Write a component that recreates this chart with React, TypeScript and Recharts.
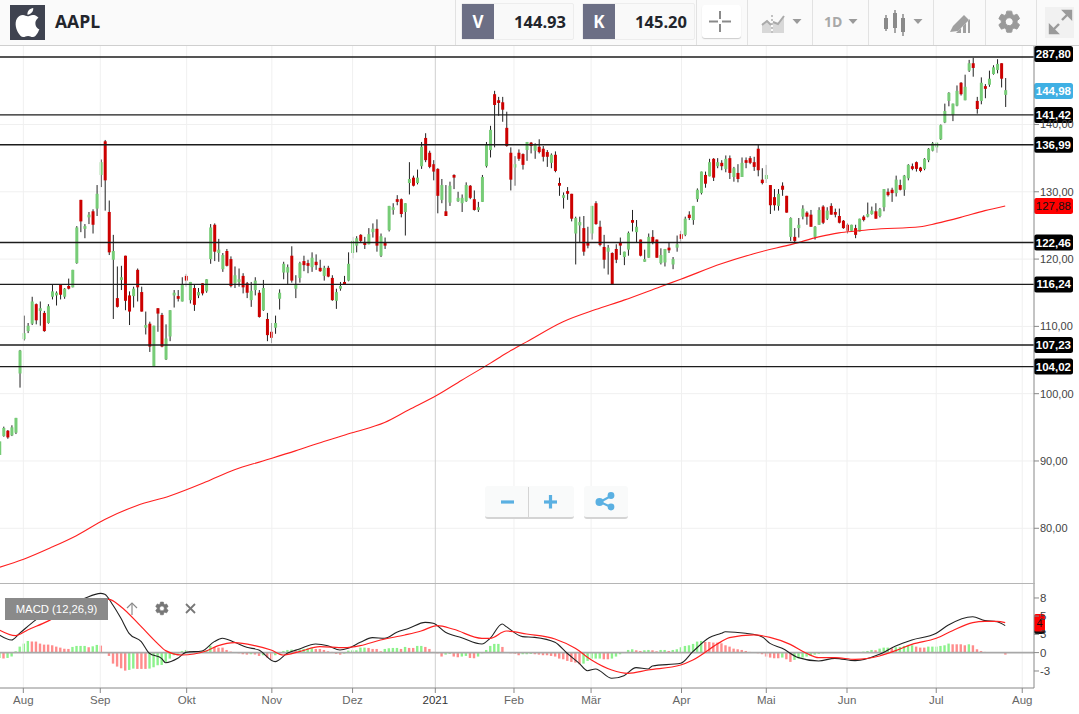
import React from "react";
import { ComposedChart, Bar, Line, XAxis, YAxis, ReferenceLine, CartesianGrid, Cell } from "recharts";

const opens = [90.9,93.7,94.5,93.8,94.2,103.0,108.1,109.3,110.4,113.3,112.3,112.0,110.5,114.4,114.6,116.2,114.4,116.0,115.8,119.4,128.8,124.5,126.2,127.1,127.5,132.5,137.5,127.0,119.9,114.2,116.9,120.5,114.6,114.5,118.4,115.1,109.8,110.4,104.1,112.7,111.7,105.1,108.5,114.6,114.5,113.7,117.5,113.9,115.7,114.6,116.4,115.2,120.0,125.1,120.9,118.5,121.2,120.0,116.4,116.6,117.5,116.4,113.9,115.4,115.0,112.4,111.1,109.2,109.8,114.1,118.0,118.0,120.5,115.6,117.2,119.7,119.4,118.8,119.6,118.7,117.5,118.7,117.2,113.8,115.6,116.6,116.8,120.9,122.0,123.6,122.5,122.2,124.0,124.5,120.5,122.5,124.3,127.3,128.9,128.9,127.0,131.3,132.1,131.3,133.8,138.0,135.8,134.1,133.4,128.8,127.1,128.4,132.5,128.6,128.3,128.6,130.9,128.9,127.3,128.5,133.8,136.2,144.5,143.6,143.3,139.5,135.8,133.6,135.8,135.6,136.2,137.3,136.1,136.7,136.4,135.9,134.3,135.5,131.3,129.1,130.1,129.7,123.8,125.0,124.6,122.5,123.8,128.3,124.8,121.8,121.1,120.9,121.5,122.4,120.3,121.4,125.8,124.0,122.9,119.6,120.2,123.3,122.9,119.4,119.5,121.7,119.2,121.7,123.7,123.6,126.6,125.8,128.9,129.8,132.5,132.3,134.9,133.8,134.3,133.4,135.0,132.2,132.8,132.2,134.7,135.0,134.4,136.4,131.8,131.9,131.0,129.2,127.9,130.9,129.4,123.3,123.3,124.6,126.3,126.9,126.6,123.3,125.1,127.8,126.0,127.9,127.0,126.4,125.7,125.1,124.2,124.6,124.1,126.3,126.3,126.7,127.1,126.4,127.7,130.0,130.3,129.8,131.0,130.3,132.0,133.8,134.4,133.6,133.4,134.7,136.1,136.6,137.8,140.3,143.5,141.4,142.8,146.2,143.6,148.0,149.1,143.5,143.5,145.7,145.9,147.5,148.1,149.1,144.4];
const closes = [92.9,94.9,93.5,95.0,96.4,106.4,109.0,110.1,113.7,110.9,112.7,109.3,113.0,115.2,115.0,114.7,115.6,115.6,118.4,124.7,125.6,124.9,126.6,125.1,129.7,134.4,131.7,121.0,121.2,112.9,117.3,113.8,112.2,115.6,115.8,112.2,110.2,107.0,110.1,111.9,107.0,108.2,112.4,115.0,114.1,116.2,116.8,116.6,113.2,115.1,114.9,117.0,124.7,121.1,121.4,120.6,119.0,116.0,117.6,117.0,115.8,115.0,115.3,116.8,111.4,115.7,108.7,108.3,110.5,115.0,119.3,118.8,116.8,116.3,119.4,119.1,119.0,120.2,119.1,118.2,118.7,117.4,113.9,115.1,116.0,116.2,119.3,122.7,123.1,122.7,122.1,123.7,124.5,122.0,123.4,122.0,127.9,127.7,128.5,126.7,128.3,131.9,130.9,132.1,136.7,134.7,133.7,133.0,129.4,131.0,126.4,130.9,132.1,129.1,129.1,131.0,129.1,127.3,127.7,132.2,137.0,139.2,142.9,143.2,142.2,136.8,131.8,134.1,134.9,134.0,137.4,136.8,137.0,135.9,135.2,135.2,135.5,133.1,130.9,129.5,129.7,126.0,126.1,125.5,121.1,122.0,127.9,125.2,122.1,119.9,121.7,116.3,119.9,122.0,121.1,123.9,125.4,124.8,120.5,120.0,123.3,122.4,120.2,120.6,121.5,121.3,120.0,122.2,123.0,126.0,126.1,127.9,130.3,133.0,131.2,134.4,132.1,134.4,133.8,134.9,132.8,133.5,131.9,134.3,134.3,134.3,133.7,133.2,131.3,132.5,128.0,128.0,129.7,130.3,126.9,126.1,122.7,125.1,127.5,126.3,124.8,124.8,127.3,125.4,127.2,126.6,126.6,125.4,124.6,124.2,125.1,123.6,126.0,125.8,126.7,127.2,126.0,127.4,130.4,129.5,129.8,131.8,130.3,132.4,134.0,133.4,133.4,133.1,134.9,136.4,137.2,137.3,139.9,142.0,144.7,143.1,145.0,144.5,145.6,149.1,148.4,142.3,146.2,145.3,146.8,148.5,149.0,146.8,145.1];
const highs = [92.9,95.1,94.6,95.3,96.4,106.5,111.6,110.5,114.4,113.4,113.7,112.3,113.3,116.2,115.2,116.2,115.7,117.1,118.4,124.9,128.8,125.2,127.0,127.4,131.0,134.8,137.7,128.7,123.6,118.9,119.0,120.5,115.2,115.9,118.6,115.9,112.2,110.7,110.1,112.7,112.0,110.3,112.4,115.4,115.4,117.3,117.8,116.6,116.2,115.7,116.4,117.0,125.2,125.3,123.0,120.9,121.5,120.4,118.9,118.6,117.9,116.6,116.6,117.3,115.4,116.9,112.0,110.5,111.6,115.5,119.6,119.2,121.9,117.6,119.6,120.5,119.9,121.0,120.7,119.9,119.0,119.0,117.6,115.6,116.6,117.5,121.0,123.3,123.4,123.7,123.3,124.6,125.3,125.9,123.8,123.2,127.9,128.3,129.5,129.0,128.3,134.4,132.4,133.3,137.4,138.7,136.1,134.7,133.5,131.9,131.0,131.5,132.6,130.0,129.6,131.4,131.0,130.2,128.5,132.5,137.4,139.8,145.0,144.1,144.1,141.9,136.6,135.3,136.3,135.7,137.4,137.4,137.2,137.8,136.8,136.2,135.7,136.0,132.1,129.9,130.7,129.7,126.3,126.3,126.4,124.8,127.9,128.6,125.7,123.6,122.1,121.0,122.2,123.2,121.1,124.1,127.3,125.8,122.9,121.4,123.8,124.3,122.9,121.6,121.5,122.5,120.3,123.5,124.2,126.3,127.1,127.9,130.5,133.0,133.0,134.9,135.0,135.0,134.7,135.4,135.4,133.7,134.1,135.1,135.1,135.3,135.2,137.1,133.5,134.0,131.0,130.4,130.4,131.4,129.4,126.2,124.6,126.1,128.0,127.1,127.3,124.9,127.7,128.0,127.7,128.3,127.5,127.5,125.8,125.3,125.1,125.1,126.0,126.5,128.4,127.8,128.3,127.6,130.4,130.5,130.6,132.4,131.8,132.5,134.1,134.2,134.5,133.7,135.0,136.5,137.4,137.3,140.0,143.1,144.8,143.1,145.8,146.3,147.4,149.6,149.9,144.1,147.0,146.0,148.0,148.8,149.7,149.1,146.9];
const lows = [90.9,93.6,93.3,93.7,94.0,100.9,107.9,109.0,110.2,110.3,110.1,109.2,110.4,114.0,113.1,114.0,114.1,115.5,115.8,119.3,124.0,123.1,125.2,123.8,126.4,130.7,127.2,120.6,111.1,112.8,115.4,112.4,110.2,112.8,113.7,112.2,108.8,106.2,104.1,109.2,106.9,105.0,107.8,112.8,113.7,113.7,115.9,113.4,112.3,114.2,114.6,115.0,119.3,119.7,119.6,118.1,118.9,115.8,115.7,115.9,114.9,114.2,112.9,114.6,111.3,112.3,107.8,107.5,108.9,112.5,117.0,116.3,116.5,114.2,116.5,118.2,117.9,118.1,118.4,118.1,116.8,117.3,113.8,112.6,115.3,116.2,116.7,120.1,121.0,122.4,121.5,122.2,123.2,121.1,120.3,121.5,124.1,126.6,128.0,126.2,123.5,129.6,130.8,131.1,133.4,134.4,133.5,131.7,126.8,128.3,126.4,127.9,130.4,128.5,127.0,128.5,128.9,127.2,127.0,128.5,133.6,135.1,136.6,141.3,140.4,136.7,130.2,130.9,134.6,133.3,134.6,135.7,134.9,135.7,134.5,133.7,133.5,132.9,129.4,127.5,128.8,125.6,119.2,122.4,120.5,121.6,122.9,125.1,121.9,118.6,117.7,116.3,119.4,120.6,119.1,120.5,124.1,122.4,120.4,119.6,120.2,122.2,120.2,119.2,118.9,120.9,118.5,121.1,122.6,123.4,125.8,125.1,128.5,129.6,130.6,132.3,131.6,133.5,133.2,132.9,131.9,131.5,131.4,132.2,133.5,134.1,133.1,132.3,131.1,131.3,126.7,127.2,127.2,129.4,126.9,122.7,122.3,123.2,125.9,125.1,124.8,122.9,125.1,125.2,125.8,126.6,126.2,125.3,124.5,123.8,124.2,123.1,124.1,125.6,126.2,126.6,126.0,126.2,127.1,129.3,128.5,129.3,130.2,129.4,131.7,133.2,133.0,132.9,133.2,134.4,136.0,135.8,137.7,140.2,142.7,140.5,142.7,144.3,143.6,147.8,147.1,141.6,143.0,143.9,145.6,147.4,147.6,145.5,142.6];

const smaIndex = [0,6,13,19,26,34,42,51,58,65,73,80,87,95,101,108,114,121,125,130,139,147,154,163,168,178,186,196,202,207,212,215,227,231,237,243,248];
const smaValue = [74.2,75.4,77.2,78.9,81.3,83.4,84.8,86.9,88.7,90.0,91.5,92.9,94.2,95.7,97.6,99.8,102.0,104.5,106.0,107.7,110.7,112.5,113.9,115.9,117.0,119.3,120.8,122.3,123.3,123.9,124.2,124.4,124.8,125.3,126.2,127.2,127.9];

const macdIndex = [0,3,5,9,15,20,25,26,28,30,32,35,37,40,41,44,46,50,53,55,58,61,64,68,71,74,78,81,84,86,89,92,95,98,101,105,107,110,114,119,121,124,125,129,132,137,140,143,145,147,151,154,157,160,161,168,171,175,178,179,184,188,190,193,197,202,206,211,217,221,225,231,234,240,243,246,248];
const macdValue = [2.8,2.0,3.06,5.2,7.6,8.35,9.4,9.25,7.56,5.44,3.06,1.74,-0.11,-0.91,-1.6,-0.91,0.04,0.26,1.74,2.27,1.63,0.84,0.41,-1.44,-0.11,0.57,1.37,1.1,0.41,0.68,1.63,2.37,2.27,3.22,3.85,4.8,4.65,3.22,2.37,1.37,2.27,4.54,4.12,2.53,2.42,1.63,-0.11,-1.7,-2.87,-2.6,-4.08,-3.66,-2.39,-2.6,-2.12,-1.7,0.15,2.37,3.06,3.32,3.06,2.53,1.47,0.68,-0.8,-1.33,-0.91,-1.28,-0.27,1.05,2.0,3.06,4.38,5.7,5.07,4.91,4.28];

const signalIndex = [0,4,7,12,18,22,27,30,35,39,41,45,51,54,58,63,67,70,74,79,85,89,94,100,104,108,112,119,121,125,130,137,142,146,151,155,160,168,171,178,180,186,190,195,199,202,206,211,217,221,225,231,235,240,243,246,248];
const signalValue = [3.59,2.69,3.59,5.0,7.1,7.9,8.46,7.29,4.12,1.47,0.31,-0.38,0.26,1.1,1.58,1.1,0.41,-0.38,0.15,0.94,0.78,1.1,2.0,2.8,3.43,4.28,3.7,2.27,2.27,3.43,2.95,2.16,0.68,-1.17,-2.76,-3.29,-2.76,-1.97,-1.17,1.74,2.37,2.8,2.42,1.31,-0.11,-0.8,-0.8,-1.07,-0.54,0.31,1.31,2.27,3.48,4.75,4.96,4.96,4.75];

const histogram = [-0.85,-0.95,-0.85,-0.63,0.21,0.95,1.43,1.85,1.75,1.75,1.43,1.27,1.27,1.16,0.95,0.79,0.63,0.58,0.90,1.06,1.06,1.06,0.85,1.0,1.22,1.11,0,-0.53,-1.75,-2.22,-2.49,-2.86,-2.75,-2.54,-2.59,-2.59,-2.59,-2.54,-2.33,-2.01,-1.96,-1.48,-0.95,-0.42,-0.16,0.26,0.42,0.21,0.21,0.21,0.26,0.32,1.06,0.90,0.79,0.79,0.42,0.16,0,-0.11,-0.26,-0.32,-0.26,-0.32,-0.53,-0.42,-0.79,-1.16,-0.42,-0.16,0.26,0.42,0.48,0.32,0.48,0.58,0.69,0.69,0.58,0.58,0.42,0.21,0.11,-0.21,-0.32,-0.16,0.32,0.37,0.37,0.79,0.79,0.74,0.58,0.58,0.21,0.58,0.69,0.74,0.74,0.58,0.90,0.74,0.74,1.06,1.06,0.90,0.58,0.11,-0.11,-0.63,-0.32,-0.21,-0.63,-0.74,-0.63,-0.53,-0.85,-0.90,-0.63,-0.11,0.42,1.06,1.38,1.38,0.90,0,-0.11,-0.21,-0.42,-0.26,-0.26,-0.21,-0.26,-0.32,-0.42,-0.42,-0.53,-0.63,-0.95,-1.06,-1.32,-1.48,-1.59,-1.85,-1.75,-1.32,-0.95,-0.95,-0.95,-1.06,-1.06,-0.95,-0.63,-0.26,0,0.42,0.53,0.37,0.26,0.37,0.42,0.37,0.21,0.42,0.42,0.26,0.42,0.53,0.85,1.06,1.16,1.38,1.75,1.85,1.69,1.69,1.59,1.59,1.48,1.16,0.95,0.63,0.53,0.42,0.26,0.11,0,-0.11,-0.26,-0.63,-0.79,-0.90,-0.90,-0.79,-1.06,-1.48,-1.16,-0.90,-0.79,-0.63,-0.48,-0.32,-0.21,-0.11,0,0,0,0,-0.05,0,-0.05,0,0.05,0.16,0.26,0.42,0.37,0.63,0.79,0.79,0.69,0.85,0.90,1.06,1.06,1.16,0.95,0.79,0.79,0.95,0.95,0.95,1.06,1.16,1.43,1.32,1.32,1.32,1.16,1.32,1.16,0.53,0.26,0.11,0,0.05,0.05,0,-0.32];

const monthTicks = [5.93,24.9,46.2,67.2,87.1,107.5,126.9,145.9,168.2,189.1,209,231,252.2];
const monthLabels = ["Aug","Sep","Okt","Nov","Dez","2021","Feb","Mär","Apr","Mai","Jun","Jul","Aug"];
const priceTicks = [80,90,100,110,120,130,140];
const levelValues = [150.03,141.42,136.99,122.46,116.24,107.23,104.02];
const levelLabels = ["287,80","141,42","136,99","122,46","116,24","107,23","104,02"];
const lastPrice = 144.98;
const lastAverage = 127.88;
const macdTicks = [-2.92,0,2.9,5.8,8.67];
const macdTickLabels = ["-3","0","3","5","8"];
const macdLast = 4.7;

const rows = opens.map((open, i) => ({
  i, open, close: closes[i], high: highs[i], low: lows[i], range: [lows[i], highs[i]],
  sma: smaIndex.includes(i) ? smaValue[smaIndex.indexOf(i)] : null,
  macd: macdIndex.includes(i) ? macdValue[macdIndex.indexOf(i)] : null,
  signal: signalIndex.includes(i) ? signalValue[signalIndex.indexOf(i)] : null,
  hist: histogram[i],
}));

const histColors: string[] = [];
histogram.forEach((h, i) => {
  if (i === 0) histColors.push("#8cf28c");
  else if (h > histogram[i - 1]) histColors.push("#8cf28c");
  else if (h < histogram[i - 1]) histColors.push("#ff8c8c");
  else histColors.push(histColors[i - 1]);
});

const X_DOMAIN: [number, number] = [0.18, 255.1];
const SANS = '"Liberation Sans", Arial, sans-serif';
const HEAD = '"Open Sans", "Noto Sans", sans-serif';

function Candle(props: any) {
  const { x, y, width, height, payload } = props;
  if (!payload) return null;
  const { high, low, open, close } = payload;
  const span = high - low || 1;
  const at = (p: number) => y + ((high - p) / span) * height;
  const cx = x + width / 2;
  const up = close >= open;
  const top = at(Math.max(open, close));
  const bottom = at(Math.min(open, close));
  return (
    <g>
      <line x1={cx} x2={cx} y1={y} y2={y + height} stroke="#222" strokeWidth={1} />
      <rect x={cx - 1.5} y={top} width={3} height={Math.max(bottom - top, 1)} fill={up ? "#77cc77" : "#cc0000"} />
    </g>
  );
}

function Tag(props: any) {
  const { viewBox, text, bg, color, dy = 0 } = props;
  if (!viewBox) return null;
  const right = viewBox.x + viewBox.width;
  const cy = viewBox.y + dy;
  return (
    <g>
      <rect x={right} y={cy - 8} width={39} height={16} rx={2.5} fill={bg} />
      <text x={right + 37} y={cy + 4} textAnchor="end" fontFamily={SANS} fontSize={11.5} fontWeight={bg === "#ff0000" ? 400 : 700} fill={color}>{text}</text>
    </g>
  );
}

function MiniTag(props: any) {
  const { viewBox } = props;
  if (!viewBox) return null;
  const right = viewBox.x + viewBox.width;
  return (
    <g>
      <rect x={right} y={viewBox.y - 7} width={11} height={18} rx={2} fill="#111" />
      <rect x={right} y={viewBox.y - 9} width={11} height={17.5} rx={2} fill="#ff0000" />
      <text x={right + 5.5} y={viewBox.y + 4} textAnchor="middle" fontFamily={SANS} fontSize={11} fill="#111">4</text>
    </g>
  );
}

function MonthTick(props: any) {
  const { x, y, index } = props;
  const label = monthLabels[index];
  return (
    <text x={x} y={y + 9} textAnchor="middle" fontFamily={SANS} fontSize={11.5} fill={label === "2021" ? "#333" : "#666"}>{label}</text>
  );
}

const Caret = ({ x }: { x: number }) => <polygon points={`${x - 4.5},19 ${x + 4.5},19 ${x},24`} fill="#9a9a9a" />;

const GEAR = "M19.14 12.94c.04-.3.06-.61.06-.94 0-.32-.02-.64-.07-.94l2.03-1.58c.18-.14.23-.41.12-.61l-1.92-3.32c-.12-.22-.37-.29-.59-.22l-2.39.96c-.5-.38-1.03-.7-1.62-.94l-.36-2.54c-.04-.24-.24-.41-.48-.41h-3.84c-.24 0-.43.17-.47.41l-.36 2.54c-.59.24-1.13.57-1.62.94l-2.39-.96c-.22-.08-.47 0-.59.22L2.74 8.87c-.12.21-.08.47.12.61l2.03 1.58c-.05.3-.09.63-.09.94s.02.64.07.94l-2.03 1.58c-.18.14-.23.41-.12.61l1.92 3.32c.12.22.37.29.59.22l2.39-.96c.5.38 1.03.7 1.62.94l.36 2.54c.05.24.24.41.48.41h3.84c.24 0 .44-.17.47-.41l.36-2.54c.59-.24 1.13-.56 1.62-.94l2.39.96c.22.08.47 0 .59-.22l1.92-3.32c.12-.22.07-.47-.12-.61l-2.01-1.58zM12 15.6c-1.98 0-3.6-1.62-3.6-3.6s1.62-3.6 3.6-3.6 3.6 1.62 3.6 3.6-1.62 3.6-3.6 3.6z";

function Toolbar() {
  const seps = [455, 696, 747, 812, 868, 933, 985, 1036];
  return (
    <div style={{ position: "absolute", left: 0, top: 0, width: 1079, height: 45, background: "#fafafa", borderBottom: "1px solid #cfcfcf", boxSizing: "content-box" }}>
      <div style={{ position: "absolute", left: 10, top: 5, width: 35, height: 35, background: "#3f4350" }}>
        <svg width={35} height={35} viewBox="0 0 24 24"><path fill="#fff" d="M18.71 19.5c-.83 1.24-1.71 2.45-3.05 2.47-1.34.03-1.77-.79-3.29-.79-1.53 0-2 .77-3.27.82-1.31.05-2.3-1.32-3.14-2.53C4.25 17 2.94 12.45 4.7 9.39c.87-1.52 2.43-2.48 4.12-2.51 1.28-.02 2.5.87 3.29.87.78 0 2.26-1.07 3.81-.91.65.03 2.47.26 3.64 1.98-.09.06-2.17 1.28-2.15 3.81.03 3.02 2.65 4.03 2.68 4.04-.03.07-.42 1.44-1.38 2.83M13 3.5c.73-.83 1.94-1.46 2.94-1.5.13 1.17-.34 2.35-1.04 3.19-.69.85-1.83 1.51-2.95 1.42-.15-1.15.41-2.35 1.05-3.11z" /></svg>
      </div>
      <div style={{ position: "absolute", left: 55, top: 9, fontFamily: HEAD, fontWeight: 700, fontSize: 17.5, lineHeight: "24px", color: "#22252c" }}>AAPL</div>
      {seps.map((s) => <div key={s} style={{ position: "absolute", left: s, top: 0, width: 1, height: 45, background: "#e2e2e2" }} />)}
      {[{ l: 461, t: "V", w: 113, v: "144.93" }, { l: 582, t: "K", w: 113, v: "145.20" }].map((b) => (
        <div key={b.t} style={{ position: "absolute", left: b.l, top: 3, width: b.w, height: 37, border: "1px solid #ededed", borderRadius: 2, boxSizing: "border-box", background: "#f9f9f9" }}>
          <div style={{ position: "absolute", left: 0, top: 0, width: 32, height: 35, background: "#6c6f85", color: "#fff", fontFamily: HEAD, fontWeight: 700, fontSize: 17, lineHeight: "35px", textAlign: "center" }}>{b.t}</div>
          <div style={{ position: "absolute", right: 7, top: 0, height: 35, color: "#22252c", fontFamily: HEAD, fontWeight: 700, fontSize: 16.5, lineHeight: "35px" }}>{b.v}</div>
        </div>
      ))}
      <div style={{ position: "absolute", left: 702, top: 5, width: 39, height: 33, background: "#fff", borderRadius: 3, boxShadow: "0 1px 1px #ccc" }} />
      <svg width={1079} height={45} style={{ position: "absolute", left: 0, top: 0 }}>
        <g stroke="#8a8a8a" strokeWidth={2}><line x1={709} x2={718} y1={21.5} y2={21.5} /><line x1={722} x2={731} y1={21.5} y2={21.5} /><line x1={720} x2={720} y1={11} y2={19} /><line x1={720} x2={720} y1={24} y2={32} /></g>
        <polygon points="762,33 762,24 767,20 771,24 771,33" fill="#d8d8d8" /><polyline points="762,25 767,21 771,25" fill="none" stroke="#aaa" strokeWidth={2} />
        <polygon points="773,33 773,21 778,24 784,16 784,33" fill="#d8d8d8" /><polyline points="773,22 778,24 784,16" fill="none" stroke="#aaa" strokeWidth={2} />
        <line x1={772} x2={772} y1={15} y2={33} stroke="#888" strokeDasharray="2 2" />
        <Caret x={797} />
        <text x={824} y={27} fontFamily={HEAD} fontSize={14} fontWeight={700} fill="#a8a8a8">1D</text>
        <Caret x={853} />
        <g stroke="#8a8a8a" strokeWidth={1.5}><line x1={886} x2={886} y1={15} y2={31} /><line x1={895} x2={895} y1={10} y2={33} /><line x1={903} x2={903} y1={14} y2={36} /></g>
        <g fill="#8a8a8a"><rect x={884} y={18} width={4} height={11} /><rect x={893} y={13} width={4} height={15} /><rect x={901} y={18} width={4} height={14} /></g>
        <Caret x={918} />
        <g fill="#a0a0a0"><polygon points="950,32 953,26 964,15 969,20 958,31" /><polygon points="956,33 961,28 961,33" /><polygon points="963,33 963,26 966,23 966,33" /><polygon points="968,33 968,21 970,19 970,33" /></g>
        <path transform="translate(996,8.5) scale(1.1)" fill="#9a9a9a" stroke="#9a9a9a" strokeWidth={0.9} d={GEAR} />
        <rect x={1045} y={7} width={29} height={31} fill="#f1f1f1" />
        <g fill="#9a9a9a" stroke="#9a9a9a" strokeWidth={2.4}><line x1={1051} x2={1059} y1={32} y2={24} /><polygon points="1050,33 1050,26 1057,33" /><line x1={1062} x2={1070} y1={20} y2={12} /><polygon points="1071,11 1071,18 1064,11" /></g>
      </svg>
    </div>
  );
}

function Overlays() {
  const btn: React.CSSProperties = { position: "absolute", background: "#f9fafa", borderBottom: "2px solid #d4d4d4", borderRadius: 3, boxSizing: "border-box" };
  return (
    <>
      <div style={{ ...btn, left: 485, top: 486, width: 89, height: 33 }} />
      <div style={{ position: "absolute", left: 528, top: 487, width: 1, height: 30, background: "#d4d4d4" }} />
      <div style={{ ...btn, left: 584, top: 486, width: 44, height: 33 }} />
      <svg width={1079} height={714} style={{ position: "absolute", left: 0, top: 0, pointerEvents: "none" }}>
        <g stroke="#5ab0e2" strokeWidth={3.2}>
          <line x1={501} x2={514} y1={502} y2={502} />
          <line x1={544} x2={557} y1={502} y2={502} /><line x1={550.5} x2={550.5} y1={495} y2={508.5} />
          <g strokeWidth={2}><line x1={600} x2={611} y1={502} y2={496} /><line x1={600} x2={611} y1={502} y2={507} /></g>
        </g>
        <g fill="#5ab0e2"><circle cx={599.5} cy={502} r={4} /><circle cx={611} cy={495.5} r={3.4} /><circle cx={611} cy={507} r={3.4} /></g>
        <g stroke="#8a8a8a" strokeWidth={1.2} fill="none"><line x1={132} x2={132} y1={603} y2={615} /><polyline points="127,608 132,603 137,608" /></g>
        <path transform="translate(154,600.5) scale(0.66)" fill="#777" stroke="#777" strokeWidth={1} d={GEAR} />
        <g stroke="#777" strokeWidth={1.8}><line x1={186} x2={195} y1={604} y2={613} /><line x1={195} x2={186} y1={604} y2={613} /></g>
      </svg>
      <div style={{ position: "absolute", left: 5, top: 598, width: 103, height: 22, background: "#8a8a8a", color: "#fff", fontFamily: SANS, fontSize: 11.3, lineHeight: "22px", textAlign: "center" }}>MACD (12,26,9)</div>
    </>
  );
}

export default function App() {
  return (
    <div style={{ position: "absolute", left: 0, top: 0, width: 1079, height: 714, background: "#fff", overflow: "hidden" }}>
      <div style={{ position: "absolute", left: 0, top: 45 }}>
        <ComposedChart width={1079} height={539} data={rows} margin={{ top: 0, right: 0, bottom: 0, left: 0 }}>
          <CartesianGrid vertical={false} stroke="#f0f0f0" />
          <XAxis dataKey="i" type="number" domain={X_DOMAIN} allowDataOverflow hide />
          <YAxis orientation="right" width={45} domain={[71.72, 151.81]} allowDataOverflow ticks={priceTicks} interval={0}
            tickFormatter={(v: number) => v.toFixed(2).replace(".", ",")}
            stroke="#888" tick={{ fontFamily: SANS, fontSize: 11, fill: "#444" }} tickSize={5} tickMargin={1} />
          {monthTicks.map((t, k) => (
            <ReferenceLine key={k} x={t} stroke={monthLabels[k] === "2021" ? "#cfcfcf" : "#f0f0f0"} />
          ))}
          <Bar dataKey="range" barSize={3} shape={<Candle />} isAnimationActive={false} />
          <Line dataKey="sma" stroke="#ff2020" strokeWidth={1.1} dot={false} connectNulls type="monotone" isAnimationActive={false} />
          {levelValues.map((v, k) => (
            <ReferenceLine key={v} y={v} stroke="#1c1c1c" strokeWidth={1.3}
              label={<Tag text={levelLabels[k]} bg="#000" color="#fff" dy={k === 0 ? -3 : 0} />} />
          ))}
          <ReferenceLine y={lastPrice} strokeOpacity={0} label={<Tag text="144,98" bg="#3fb0e4" color="#fff" />} />
          <ReferenceLine y={lastAverage} strokeOpacity={0} label={<Tag text="127,88" bg="#ff0000" color="#111" />} />
        </ComposedChart>
      </div>
      <div style={{ position: "absolute", left: 0, top: 583, width: 1035, height: 1, background: "#b5b5b5" }} />
      <div style={{ position: "absolute", left: 0, top: 584 }}>
        <ComposedChart width={1079} height={130} data={rows} margin={{ top: 0, right: 0, bottom: 0, left: 0 }}>
          <XAxis dataKey="i" type="number" domain={X_DOMAIN} allowDataOverflow ticks={monthTicks} interval={0} height={26}
            stroke="#888" tickSize={5} tick={<MonthTick />} />
          <YAxis orientation="right" width={45} domain={[-5.62, 10.89]} allowDataOverflow ticks={macdTicks} interval={0}
            tickFormatter={(v: number) => macdTickLabels[macdTicks.indexOf(v)]}
            stroke="#888" tick={{ fontFamily: SANS, fontSize: 11.5, fill: "#444" }} tickSize={5} tickMargin={1} />
          {monthTicks.map((t, k) => (
            <ReferenceLine key={k} x={t} stroke={monthLabels[k] === "2021" ? "#cfcfcf" : "#f0f0f0"} />
          ))}
          <ReferenceLine y={0} stroke="#a8a8a8" strokeWidth={1.6} />
          <Bar dataKey="hist" barSize={2.4} isAnimationActive={false}>
            {rows.map((r) => <Cell key={r.i} fill={histColors[r.i]} />)}
          </Bar>
          <Line dataKey="macd" stroke="#222" strokeWidth={1.1} dot={false} connectNulls type="monotone" isAnimationActive={false} />
          <Line dataKey="signal" stroke="#ff2020" strokeWidth={1.2} dot={false} connectNulls type="monotone" isAnimationActive={false} />
          <ReferenceLine y={macdLast} strokeOpacity={0} label={<MiniTag />} />
        </ComposedChart>
      </div>
      <Toolbar />
      <Overlays />
    </div>
  );
}
